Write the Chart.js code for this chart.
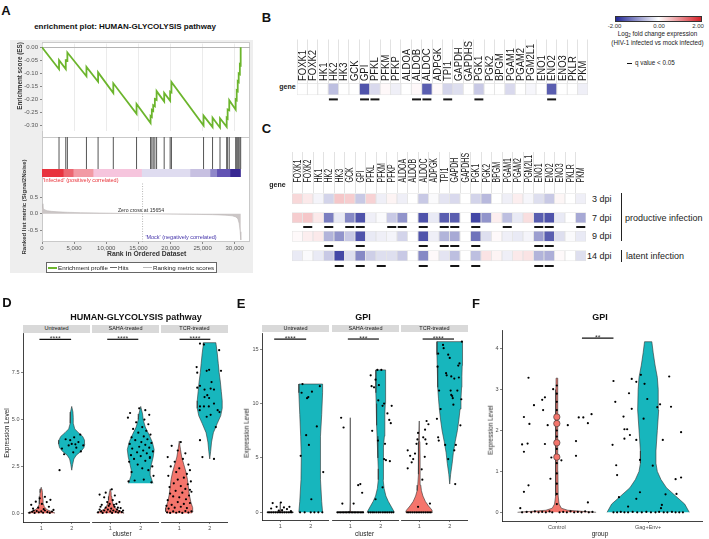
<!DOCTYPE html>
<html><head><meta charset="utf-8">
<script src="https://cdn.jsdelivr.net/npm/chart.js@4.4.1/dist/chart.umd.min.js"></script>
<style>
html,body{margin:0;padding:0;background:#fff;}
body{width:709px;height:539px;position:relative;overflow:hidden;font-family:"Liberation Sans",Arial,Helvetica,sans-serif;}
.t{position:absolute;white-space:nowrap;line-height:1;color:#111;}
.bx{position:absolute;box-sizing:border-box;}
canvas{position:absolute;}
sub{font-size:70%;vertical-align:-1px;line-height:0;}
</style></head><body>
<script>
// ================= DATA =================
// Panel A - GSEA enrichment plot
const rankTicks = [0, 5000, 10000, 15000, 20000, 25000, 30000];
const esTicks = [0, -0.05, -0.10, -0.15, -0.20, -0.25, -0.30];
const metricTicks = [-0.5, 0, 0.5];
const esRank = [0,2650,2650,3700,3700,3950,3950,6920,6920,8730,8730,11100,11100,14720,14720,16900,16900,17100,17100,17310,17310,17570,17570,17840,17840,19020,19020,19950,19950,20150,20150,25150,25150,26550,26550,27710,27710,28750,28750,28900,28900,29150,29150,30150,30150,30310,30310,30470,30470,30620,30620,30800,30800,30930,30930];
const esScore = [0,-0.084,-0.049,-0.083,-0.05,-0.052,-0.02,-0.111,-0.075,-0.132,-0.096,-0.175,-0.138,-0.255,-0.217,-0.29,-0.263,-0.267,-0.24,-0.244,-0.222,-0.226,-0.198,-0.202,-0.168,-0.208,-0.175,-0.205,-0.17,-0.173,-0.133,-0.3,-0.262,-0.306,-0.27,-0.308,-0.272,-0.305,-0.27,-0.273,-0.238,-0.241,-0.203,-0.239,-0.2,-0.203,-0.165,-0.168,-0.13,-0.133,-0.1,-0.103,-0.065,-0.068,0];
const hitRanks = [2650,3700,3950,6920,8730,11100,14720,16900,17100,17310,17570,17840,19020,19950,20150,25150,26550,27710,28750,28900,29150,30150,30310,30470,30620,30800,30930];
const metricRank = [0,150,400,800,1500,2500,4000,6000,9000,12000,15654,18000,21000,24000,26500,28500,29600,30200,30500,30700,30850,30950];
const metricValue = [0.30,0.17,0.12,0.09,0.07,0.055,0.042,0.03,0.02,0.01,0,-0.008,-0.015,-0.022,-0.03,-0.045,-0.065,-0.1,-0.16,-0.3,-0.55,-0.8];
const zeroCross = 15654;
const bandStart = [0,3300,4850,7950,15500,23030,26150,27200,29270];
const bandEnd   = [3300,4850,7950,15500,23030,26150,27200,29270,30900];
const bandColors = ['#e8333e','#ec6670','#f29aa4','#f6c5dd','#dfdcf0','#c7c0e1','#8f87c9','#6253b3','#372792'];

// Panels B, C - heatmaps (log2 fold change)
const genes = ['FOXK1','FOXK2','HK1','HK2','HK3','GCK','GPI','PFKL','PFKM','PFKP','ALDOA','ALDOB','ALDOC','ADPGK','TPI1','GAPDH','GAPDHS','PGK1','PGK2','BPGM','PGAM1','PGAM2','PGM2L1','ENO1','ENO2','ENO3','PKLR','PKM'];
const fcB  = [0,0,0,-0.6,0,0,-1.6,-0.35,0.06,-0.15,0,0.06,-1.5,0.05,-0.4,-0.3,0,-0.5,0,0,-0.35,0,-0.08,0,-1.5,0,0,-0.15];
const qB   = ['HK2','GPI','PFKL','ALDOB','ALDOC','TPI1','PGK1','ENO2'];
const fc3  = [0.35,0.2,-0.1,-0.4,0.5,0.45,-0.5,0.4,-0.15,0.1,-0.15,0,-0.5,-0.05,-0.25,-0.35,0,-0.4,-0.65,0,-0.15,0.15,-0.08,-0.3,-0.5,0.08,0,-0.15];
const fc7  = [0.45,0.5,0.2,-1.2,-0.2,-1.1,-1.6,-0.15,-0.05,-0.5,-1.0,0,-1.6,-0.2,-1.5,-1.5,0,-1.7,-1.0,0.15,-0.6,-0.2,0.3,-1.5,-1.6,-0.2,0,-0.8];
const fc9  = [0.05,0.15,0.2,-0.7,-1.0,-0.5,-1.6,-0.2,-0.15,-0.1,-0.4,0,-1.6,-0.15,-0.7,-0.8,0,-1.3,-0.3,0.05,-0.15,-0.2,-0.1,-0.9,-1.5,-0.3,-0.05,-0.2];
const fc14 = [-0.2,-0.05,-0.2,-0.5,-1.7,-0.3,-1.1,-0.45,-0.3,-0.3,-0.5,0,-1.1,0.05,-0.25,-0.6,0,-0.6,0.25,0.1,-0.15,0.2,0.25,-0.7,-0.75,0.05,0,-0.3];
const q7  = ['FOXK2','HK2','GCK','GPI','PFKP','ALDOA','ALDOC','TPI1','GAPDH','PGK1','PGAM1','ENO1','ENO2','PKM'];
const q9  = ['HK2','GPI','ALDOC','TPI1','GAPDH','PGK1','ENO1','ENO2'];
const q14 = ['HK3','GPI','PFKM','ALDOC','GAPDH','PGK1','ENO1','ENO2'];
const rowLabelsC = ['3 dpi','7 dpi','9 dpi','14 dpi'];
const colorbarTicks = ['-2.00','0.00','2.00'];

// Panels D, E, F - violins
const facetNames = ['Untreated','SAHA-treated','TCR-treated'];
const clusters = ['1','2'];
const groupsF = ['Control','Gag+Env+'];
const dTicks = [0, 2.5, 5, 7.5];
const eTicks = [0, 5, 10, 15];
const fTicks = [0, 1, 2, 3, 4];
// violin outlines: levels (expression) and half-widths
const vDU1y=[0,0.04,0.1,0.2,0.35,0.5,0.7,0.9,1.1,1.3,1.39], vDU1w=[0.42,0.43,0.32,0.18,0.1,0.07,0.06,0.05,0.04,0.02,0];
const vDU2y=[2.3,2.6,2.9,3.1,3.3,3.5,3.7,3.9,4.1,4.3,4.5,4.8,5.1,5.4,5.7], vDU2w=[0,0.03,0.07,0.15,0.3,0.4,0.43,0.42,0.36,0.22,0.1,0.05,0.05,0.04,0];
const vDS1y=[0,0.04,0.1,0.2,0.35,0.5,0.7,0.9,1.1,1.3], vDS1w=[0.42,0.44,0.35,0.22,0.13,0.09,0.06,0.05,0.03,0];
const vDS2y=[1.6,1.8,2.0,2.3,2.6,3.0,3.4,3.8,4.2,4.6,5.0,5.3,5.7], vDS2w=[0.4,0.36,0.32,0.31,0.35,0.41,0.44,0.38,0.27,0.15,0.08,0.06,0];
const vDT1y=[0,0.1,0.3,0.6,1.0,1.4,1.8,2.2,2.6,3.0,3.4,3.85], vDT1w=[0.4,0.45,0.44,0.38,0.33,0.3,0.27,0.22,0.15,0.08,0.04,0];
const vDT2y=[2.9,3.3,3.8,4.3,4.8,5.2,5.6,6.0,6.5,7.0,7.5,8.0,8.5,9.0,9.1], vDT2w=[0,0.03,0.06,0.12,0.25,0.36,0.41,0.41,0.38,0.35,0.31,0.28,0.25,0.21,0.2];
const vEU1y=[0,0.03,0.08,0.3,0.6,0.9], vEU1w=[0.45,0.05,0.015,0.008,0.005,0];
const vEU2y=[0,1,3,5,7,9,11,11.8], vEU2w=[0.39,0.36,0.32,0.31,0.33,0.36,0.39,0.39];
const vES1y=[0,0.03,0.1,1,4,8.7], vES1w=[0.45,0.04,0.01,0.006,0.005,0.004];
const vES2y=[0,0.5,1,1.5,2.2,3,4,5,6,7,8,9,10,11,12,13.1], vES2w=[0.45,0.35,0.25,0.17,0.11,0.08,0.08,0.09,0.1,0.12,0.13,0.14,0.15,0.16,0.16,0.16];
const vET1y=[0,0.2,0.6,1,1.5,2,2.5,3.5,5,6.5,8.4], vET1w=[0.45,0.42,0.3,0.2,0.12,0.07,0.05,0.03,0.025,0.02,0];
const vET2y=[2.6,3.5,4.5,5.5,6.5,7.5,8.5,9.5,10.5,11.5,12.5,13.5,14.5,15.7], vET2w=[0,0.03,0.08,0.12,0.18,0.25,0.3,0.34,0.37,0.39,0.4,0.41,0.42,0.42];
const vFCy=[0,0.02,0.05,0.1,0.2,0.4,1,2,3,3.28], vFCw=[0.43,0.3,0.12,0.05,0.025,0.015,0.012,0.012,0.01,0.008];
const vFGy=[0,0.2,0.4,0.6,0.8,1.0,1.2,1.5,2.0,2.5,3.0,3.3,3.6,3.9,4.17], vFGw=[0.45,0.4,0.3,0.2,0.14,0.1,0.085,0.085,0.1,0.115,0.11,0.1,0.075,0.055,0.04];
const fBlobs = [1.35,1.7,2.17,2.33];
// jittered cells: [offset from group centre, expression]
const ptsDU1=[[-0.38,0.03],[-0.3,0.08],[-0.22,0.02],[-0.15,0.12],[-0.08,0.05],[0,0.1],[0.06,0.03],[0.12,0.15],[0.2,0.06],[0.28,0.02],[0.35,0.09],[-0.27,0.25],[-0.1,0.3],[0.08,0.22],[0.25,0.35],[-0.33,0.45],[0.02,0.5],[0.18,0.6],[-0.18,0.62],[0.3,0.72],[-0.05,0.8],[0.12,0.88],[-0.25,0.15],[0.4,0.18]];
const ptsDU2=[[-0.4,2.3],[-0.25,3.15],[0.05,3.25],[0.3,3.3],[-0.32,3.45],[0.15,3.5],[-0.1,3.62],[0,3.7],[0.38,3.62],[0.22,3.8],[-0.2,3.95],[0.08,4.05],[0.28,4.2],[-0.05,3.9],[0.12,3.68]];
const ptsDS1=[[-0.4,0.05],[-0.35,0.2],[-0.3,0.1],[-0.25,0.02],[-0.2,0.15],[-0.15,0.3],[-0.12,0.05],[-0.08,0.2],[-0.05,0.4],[0,0.1],[0.03,0.25],[0.06,0.02],[0.1,0.15],[0.14,0.35],[0.18,0.08],[0.22,0.2],[0.26,0.04],[0.3,0.12],[0.34,0.28],[0.38,0.06],[0.42,0.15],[-0.28,0.45],[0.2,0.5],[-0.1,0.6],[0.08,0.7],[-0.2,0.85],[0.15,0.95],[-0.35,1.0],[0.05,1.28],[-0.15,1.1],[0.3,0.6],[-0.02,0.5],[0.25,0.3],[-0.32,0.35],[0.12,0.45]];
const ptsDS2=[[-0.4,1.7],[-0.2,1.75],[0.1,1.8],[0.35,1.65],[0.42,2.0],[-0.3,2.2],[0.25,2.3],[0.05,2.4],[-0.1,2.6],[0.38,2.5],[-0.38,2.75],[0.15,2.8],[-0.22,2.9],[0.3,2.95],[0,3.05],[-0.32,3.1],[0.2,3.2],[-0.12,3.25],[0.4,3.3],[0.08,3.35],[-0.28,3.45],[0.28,3.5],[-0.05,3.55],[0.15,3.65],[-0.36,3.7],[0.35,3.75],[0.02,3.8],[-0.18,3.9],[0.22,3.95],[-0.3,4.05],[0.1,4.1],[0.32,4.2],[-0.08,4.3],[0.18,4.4],[-0.25,4.5],[0.05,4.6],[0.25,4.75],[-0.15,4.85],[0.12,5.0],[-0.42,5.1],[0.28,5.25],[-0.35,5.35],[0.15,5.5],[-0.05,5.6],[0.3,3.0]];
const ptsDT1=[[-0.4,0.05],[-0.3,0.02],[-0.2,0.1],[-0.1,0.03],[0,0.08],[0.1,0.02],[0.2,0.12],[0.3,0.04],[0.4,0.1],[-0.35,0.25],[-0.15,0.3],[0.05,0.35],[0.25,0.28],[-0.25,0.45],[0.15,0.5],[0.35,0.55],[-0.05,0.6],[-0.38,0.7],[0.22,0.75],[0,0.85],[-0.2,0.9],[0.32,0.95],[-0.3,1.05],[0.1,1.1],[0.4,1.15],[-0.12,1.2],[0.2,1.3],[-0.32,1.4],[0.05,1.45],[0.28,1.55],[-0.18,1.6],[0.38,1.7],[-0.05,1.8],[0.15,1.9],[-0.36,2.0],[0.25,2.1],[-0.1,2.2],[0.35,2.3],[0,2.4],[-0.28,2.5],[0.3,2.6],[-0.15,2.75],[0.12,2.9],[-0.38,3.0],[0.2,3.2],[-0.05,3.35],[-0.25,3.6],[0.05,3.8],[0.35,1.25],[-0.42,0.4]];
const ptsDT2=[[-0.32,9.05],[-0.19,9.0],[0.31,8.7],[-0.43,7.8],[-0.1,7.6],[-0.02,7.65],[0.37,7.6],[-0.41,7.5],[0.06,7.0],[-0.32,6.8],[-0.41,6.7],[-0.17,6.6],[0.03,6.65],[0.14,6.6],[-0.08,6.3],[-0.17,6.2],[-0.02,6.15],[-0.32,5.7],[-0.19,5.7],[-0.33,5.5],[-0.03,5.7],[0.14,5.85],[0.03,5.25],[-0.1,5.15],[0.32,5.4],[0.2,4.6],[-0.32,3.9],[-0.24,3.0],[0.14,2.9],[0.26,5.5]];
const ptsEU1=[[-0.4,0],[-0.34,0],[-0.28,0],[-0.22,0],[-0.16,0],[-0.1,0],[-0.04,0],[0.02,0],[0.08,0],[0.14,0],[0.2,0],[0.26,0],[0.32,0],[0.38,0],[-0.25,0.85],[-0.3,0.35],[-0.12,0.5],[0.02,0.9],[0.06,0.2],[0.12,0.45],[0.22,0.3],[0.3,0.5],[-0.05,0.15],[0.35,0.1]];
const ptsEU2=[[-0.33,5.2],[-0.27,11.8],[-0.3,11.0],[-0.12,10.5],[-0.08,10.6],[0.04,11.1],[-0.15,7.1],[-0.06,6.2],[0.2,7.9],[0.02,1.2],[0.41,3.7],[0.3,11.6],[-0.35,0],[-0.2,0],[0,0],[0.12,0],[0.25,0],[0.38,0]];
const ptsES1=[[-0.3,8.7],[-0.22,7.8],[-0.26,0.8],[0.11,0.8],[0.26,2.5],[0.33,2.6],[0.39,1.8],[-0.42,0],[-0.37,0],[-0.32,0],[-0.27,0],[-0.22,0],[-0.17,0],[-0.12,0],[-0.07,0],[-0.02,0],[0.03,0],[0.08,0],[0.13,0],[0.18,0],[0.23,0],[0.28,0],[0.33,0],[0.38,0],[0.42,0]];
const ptsES2=[[-0.33,12.6],[-0.3,11.6],[-0.22,11.5],[-0.17,12.2],[-0.11,13.1],[-0.06,11.7],[-0.08,10.3],[0.02,13.1],[0.06,9.8],[0.11,10.0],[0.22,9.1],[0.28,8.5],[0.33,8.2],[0.36,9.8],[-0.28,7.5],[-0.17,1.2],[-0.09,6.6],[0.11,4.9],[0.17,4.8],[0.3,4.7],[0.14,6.3],[0.06,2.3],[-0.4,0],[-0.34,0],[-0.28,0],[-0.22,0],[-0.15,0],[-0.08,0],[-0.02,0],[0.05,0],[0.11,0],[0.17,0],[0.23,0],[0.29,0],[0.35,0],[0.41,0]];
const ptsET1=[[-0.38,4.05],[-0.38,5.7],[-0.25,4.6],[-0.2,4.9],[-0.14,5.4],[-0.09,6.3],[-0.06,6.7],[-0.04,7.3],[0.08,3.95],[0.13,6.9],[0.19,7.6],[0.24,8.4],[0.3,8.1],[0.2,6.7],[0.24,6.3],[0.18,5.1],[-0.04,0.5],[0.35,0.8],[0.1,3.0],[-0.3,5.2],[-0.4,0],[-0.34,0],[-0.28,0],[-0.22,0],[-0.16,0],[-0.1,0],[-0.04,0],[0.02,0],[0.08,0],[0.14,0],[0.2,0],[0.26,0],[0.32,0],[0.38,0]];
const ptsET2=[[-0.42,8.6],[-0.38,6.9],[-0.36,6.6],[-0.3,9.5],[-0.35,11.2],[-0.4,13.4],[-0.38,14.6],[-0.22,15.4],[-0.2,15.1],[-0.12,12.8],[-0.1,12.6],[-0.05,14.5],[0,14.2],[0.03,11.2],[0.05,10.8],[0.08,10.7],[0.1,10.5],[0.12,9.9],[0.15,12.3],[0.15,5.7],[0.2,6.2],[-0.05,4.9],[0.25,11.2],[0.28,13.5],[0.32,13.7],[0.3,12.4],[0.35,8.0],[0.4,15.7],[0.38,10.4],[0.18,2.6],[-0.15,6.2],[0.05,12.5]];
const ptsFC=[[-0.31,3.29],[-0.04,3.01],[-0.25,2.62],[-0.16,2.75],[-0.13,2.81],[-0.15,2.5],[-0.36,2.33],[-0.3,2.16],[-0.1,2.13],[0.12,2.13],[0.24,2.32],[0.29,2.32],[0.38,2.4],[0.34,2.18],[-0.38,1.66],[-0.32,1.68],[-0.36,1.48],[-0.13,1.67],[0.21,1.74],[0.21,1.38],[-0.06,1.34],[0.05,1.27],[-0.07,0.82],[-0.31,0.66],[-0.36,0.5],[-0.4,0.1],[0.34,0.24],
 [-0.38,0],[-0.33,0.01],[-0.28,0],[-0.24,0.02],[-0.2,0],[-0.16,0.01],[-0.12,0],[-0.08,0.02],[-0.05,0],[0.03,0],[0.07,0.01],[0.11,0],[0.15,0.02],[0.19,0],[0.23,0.01],[0.27,0],[0.31,0.02],[0.35,0],[0.39,0.01],
 [0,0.2],[0,0.45],[0,0.7],[0,0.95],[0,1.2],[0,1.55],[0,1.85],[0,2.0],[0,2.5],[0,2.7],[0,2.9],[0,3.1]];
const ptsFG=[[-0.38,3.21],[-0.36,2.7],[-0.27,2.34],[-0.21,2.91],[-0.18,3.26],[-0.13,3.19],[-0.08,3.36],[-0.04,3.14],[-0.01,2.77],[-0.05,2.29],[0.1,2.57],[0.13,2.64],[0.23,3.32],[0.25,2.58],[0.16,1.77],[0.36,1.96],[-0.18,2.53],[-0.26,2.03],[-0.23,2.03],[-0.2,1.89],[-0.26,1.8],[-0.13,1.77],[-0.39,1.65],[-0.35,1.15],[-0.34,0.91],[-0.09,1.28],[0.05,1.14],[-0.09,0.49],[-0.32,0.37],[-0.13,0.33],[-0.22,0.14],[0.19,0.44],[0.31,0.45],[0.3,0.81],[0.36,0.85],[0.15,0.18],[0.14,0.1],
 [-0.38,0],[-0.34,0],[-0.3,0.01],[-0.26,0],[-0.22,0],[-0.17,0.01],[-0.12,0],[-0.07,0],[-0.02,0.01],[0.03,0],[0.08,0],[0.12,0.01],[0.17,0],[0.21,0],[0.26,0.01],[0.3,0],[0.34,0],[0.38,0]];
// significance brackets
const sigDx0=[0.94,0.9,1.01], sigDx1=[1.98,1.92,2.02], sigDy=9.28, sigDlab=['****','****','****'];
const sigEx0=[0.8,0.92,1.11], sigEx1=[1.85,1.94,2.14], sigEy=15.94, sigElab=['****','***','****'];
const sigFx0=1.275, sigFx1=1.62, sigFy=4.26, sigFlab='**';

// ================= RENDER =================
const FONT='"Liberation Sans", Arial, Helvetica, sans-serif';
Chart.defaults.font.family=FONT;
Chart.defaults.animation=false;
Chart.defaults.color='#444';
const RED='#f4756c', TEAL='#17b6bd';

function box(x,y,w,h,css){const d=document.createElement('div');d.className='bx';Object.assign(d.style,{left:x+'px',top:y+'px',width:w+'px',height:h+'px'},css);document.body.appendChild(d);return d;}
function T(txt,x,y,o){o=o||{};const d=document.createElement('div');d.className='t';if(o.html)d.innerHTML=txt;else d.textContent=txt;const s=d.style;s.left=x+'px';s.top=y+'px';s.fontSize=(o.s||7)+'px';if(o.b)s.fontWeight='bold';if(o.c)s.color=o.c;const ax=o.a==='l'?'0':(o.a==='r'?'-100%':'-50%');s.transform='translate('+ax+',-50%)'+(o.r?' rotate('+o.r+'deg)':'');document.body.appendChild(d);return d;}
function mk(l,t,w,h,config){
  const c=document.createElement('canvas');c.width=w;c.height=h;
  Object.assign(c.style,{left:l+'px',top:t+'px',width:w+'px',height:h+'px'});
  document.body.appendChild(c);
  const o=config.options||{};
  config.options=Object.assign({responsive:false,maintainAspectRatio:false,animation:false,devicePixelRatio:1,events:[]},o);
  config.options.layout=Object.assign({autoPadding:false,padding:0},o.layout||{});
  config.options.plugins=Object.assign({legend:{display:false},tooltip:{enabled:false},title:{display:false}},o.plugins||{});
  return new Chart(c.getContext('2d'),config);
}
function setTicks(arr){return s=>{s.ticks=arr.map(v=>({value:v}));};}

// ---------- Panel A ----------
box(10,40,243,233,{background:'#eeeeee'});
box(42,42,208,200,{background:'#fff',border:'1px solid #c9c9c9'});
box(42,137,208,1,{background:'#c9c9c9'});
const XMAX=32380;
// Enrichment score
mk(10,38,240,99,{type:'scatter',data:{datasets:[{data:esRank.map((r,i)=>({x:r,y:esScore[i]})),showLine:true,borderColor:'#6cb52d',borderWidth:1.8,pointRadius:0,fill:false}]},
 options:{layout:{padding:{top:4}},scales:{
  x:{type:'linear',min:0,max:XMAX,afterBuildTicks:setTicks(rankTicks),ticks:{display:false},grid:{color:'#e6e6e6',lineWidth:0.8,drawTicks:false},border:{display:false},afterFit:s=>{s.height=0;}},
  y:{type:'linear',min:-0.3223,max:0.0142,afterBuildTicks:setTicks(esTicks),ticks:{font:{size:6},color:'#555',padding:2,callback:v=>Number(v).toFixed(2)},grid:{color:c=>(c.tick&&c.tick.value===0)?'#b5b5b5':'rgba(0,0,0,0)',tickColor:'#888',tickLength:2},border:{display:false},afterFit:s=>{s.width=32;}}}}});
// Hits
mk(42,137,208,32,{type:'scatter',data:{datasets:[{data:hitRanks.map(r=>({x:r,y:0.5})),pointStyle:'line',pointRotation:90,pointRadius:16,pointBorderColor:'#555',pointBorderWidth:1}]},
 options:{scales:{x:{type:'linear',min:0,max:XMAX,display:false},y:{min:0,max:1,display:false}}}});
// Correlation colour band
mk(42,169,208,8,{type:'bar',data:{labels:['rank'],datasets:bandStart.map((s,i)=>({data:[[s,bandEnd[i]]],backgroundColor:bandColors[i],borderWidth:0,grouped:false,categoryPercentage:1,barPercentage:1}))},
 options:{indexAxis:'y',scales:{x:{type:'linear',min:0,max:XMAX,display:false},y:{display:false}}}});
// Ranked list metric
mk(10,177,240,77,{type:'scatter',data:{datasets:[
  {data:[{x:zeroCross,y:-0.861},{x:zeroCross,y:0.944}],showLine:true,borderColor:'#a5a5a5',borderWidth:0.8,borderDash:[1,1.5],pointRadius:0},
  {data:metricRank.map((r,i)=>({x:r,y:metricValue[i]})),showLine:true,fill:'origin',backgroundColor:'#cbc6c6',borderColor:'#bdb8b8',borderWidth:0.6,pointRadius:0}]},
 options:{scales:{
  x:{type:'linear',min:0,max:XMAX,afterBuildTicks:setTicks(rankTicks),ticks:{font:{size:6},color:'#555',padding:1,maxRotation:0,autoSkip:false,callback:v=>Number(v).toLocaleString('en-US')},grid:{drawOnChartArea:false,tickLength:2,color:'#888'},border:{display:false},afterFit:s=>{s.height=12;}},
  y:{type:'linear',min:-0.861,max:0.944,afterBuildTicks:setTicks(metricTicks),ticks:{font:{size:6},color:'#555',padding:2,callback:v=>Number(v).toFixed(1)},grid:{drawOnChartArea:false,tickLength:2,color:'#888'},border:{display:false},afterFit:s=>{s.width=32;}}}}});
// legend
box(46,262,171,11,{background:'#fff',border:'1px solid #666'});
box(48,267,9,1.6,{background:'#6cb52d'});
box(110,267,7,1,{background:'#666'});
box(143,267,9,1,{background:'#bbb'});

// ---------- Panels B & C heatmaps ----------
function heatColor(v){const t=Math.max(-2,Math.min(2,v))/2;let c;if(t<0){const a=-t;c=[255+(35-255)*a,255+(40-255)*a,255+(150-255)*a];}else{c=[255+(214-255)*t,255+(32-255)*t,255+(40-255)*t];}return 'rgb('+c.map(Math.round).join(',')+')';}
const geneLabelPlugin={id:'geneLabels',afterDraw(chart,args,o){const xs=chart.scales.x,ctx=chart.ctx;ctx.save();ctx.fillStyle='#1a1a1a';ctx.font=o.size+'px '+FONT;ctx.textAlign='left';ctx.textBaseline='middle';
  chart.data.labels.forEach((lab,i)=>{ctx.save();ctx.translate(xs.getPixelForValue(i),o.y);ctx.rotate(-Math.PI/2);ctx.scale(o.sx,1);ctx.fillText(lab,0,0.5);ctx.restore();});ctx.restore();}};
function heatChart(l,t,w,h,axisH,tickLen,labelY,fsize,sx,rows,qrows,yMin,yMax){
  const ds=[];
  qrows.forEach(q=>ds.push({data:genes.map(g=>q.genes.includes(g)?[q.y0,q.y1]:null),backgroundColor:'#151515',borderWidth:0,grouped:false,categoryPercentage:1,barPercentage:0.86}));
  rows.forEach(r=>ds.push({data:genes.map(()=>[r.y0,r.y1]),backgroundColor:r.vals.map(heatColor),borderColor:'#e2e2e2',borderWidth:0.8,borderSkipped:false,grouped:false,categoryPercentage:1,barPercentage:1}));
  return mk(l,t,w,h,{type:'bar',data:{labels:genes,datasets:ds},plugins:[geneLabelPlugin],
   options:{plugins:{geneLabels:{y:labelY,size:fsize,sx:sx}},scales:{
    x:{position:'top',offset:true,grid:{offset:true,drawOnChartArea:false,drawTicks:true,tickLength:tickLen,color:'#d6d6d6',lineWidth:0.7},ticks:{display:false},border:{display:false},afterFit:s=>{s.height=axisH;}},
    y:{type:'linear',min:yMin,max:yMax,reverse:true,display:false}}}});
}
heatChart(297,36,291,66,47,43.5,45,11,0.86,[{vals:fcB,y0:83.3,y1:95}],[{genes:qB,y0:98.4,y1:100.4}],83,102);
heatChart(292,148,294,120,45,41,34.5,10,0.7,
  [{vals:fc3,y0:193.5,y1:204},{vals:fc7,y0:212.5,y1:223},{vals:fc9,y0:231,y1:241.5},{vals:fc14,y0:250.5,y1:261}],
  [{genes:q7,y0:226,y1:228},{genes:q9,y0:245,y1:247},{genes:q14,y0:265,y1:267}],193,268);
// colour scale legend
box(615,16,87,6,{background:'linear-gradient(to right, rgb(35,40,150), #ffffff, rgb(214,32,40))',border:'0.8px solid #333'});
box(627,62.5,5,1.6,{background:'#111'});
box(620.5,193,1,48,{background:'#222'});
box(620.5,250,1,12,{background:'#222'});

// ---------- Panels D, E, F violins ----------
function poly(c,ys,ws){const p=[];for(let i=0;i<ys.length;i++)p.push({x:c+ws[i],y:ys[i]});for(let i=ys.length-1;i>=0;i--)p.push({x:c-ws[i],y:ys[i]});return p;}
const sigPlugin={id:'sigText',afterDatasetsDraw(chart,args,o){if(!o||!o.text)return;const ctx=chart.ctx;ctx.save();ctx.fillStyle='#333';ctx.font=(o.size||7)+'px '+FONT;ctx.textAlign='center';ctx.textBaseline='alphabetic';
  ctx.fillText(o.text,chart.scales.x.getPixelForValue(o.x),chart.scales.y.getPixelForValue(o.y)+1.5);ctx.restore();}};
function facet(o){
  const ds=[];
  o.pts.forEach(([c,arr])=>ds.push({data:arr.map(p=>({x:c+p[0],y:p[1]})),pointRadius:1.1,pointBackgroundColor:'#000',pointBorderWidth:0,showLine:false,order:0}));
  if(o.extra)o.extra.forEach(d=>ds.push(d));
  ds.push({data:[{x:o.sig[0],y:o.sig[2]},{x:o.sig[1],y:o.sig[2]}],showLine:true,borderColor:'#111',borderWidth:1.2,pointRadius:0,order:1});
  o.violins.forEach(([c,ys,ws,col])=>ds.push({data:poly(c,ys,ws),showLine:true,fill:'shape',backgroundColor:col,borderColor:'#333',borderWidth:0.6,pointRadius:0,order:3}));
  const y=o.yW?{type:'linear',min:o.ymin,max:o.ymax,afterBuildTicks:setTicks(o.yTicks),ticks:{font:{size:5.5},color:'#4d4d4d',padding:1.5,callback:o.yFmt},grid:{drawOnChartArea:false,color:'#333',tickLength:2,lineWidth:0.6},border:{display:true,color:'#111',width:0.8},afterFit:s=>{s.width=o.yW;}}
              :{type:'linear',min:o.ymin,max:o.ymax,display:false};
  return mk(o.l,o.t,o.w,o.h,{type:'scatter',data:{datasets:ds},plugins:[sigPlugin],options:{layout:{padding:{top:o.padTop}},plugins:{sigText:{text:o.sig[3],x:(o.sig[0]+o.sig[1])/2,y:o.sig[2],size:7}},scales:{
    x:{type:'linear',min:0.4,max:2.6,afterBuildTicks:setTicks([1,2]),ticks:{font:{size:5.5},color:'#4d4d4d',padding:1.5,maxRotation:0,autoSkip:false,callback:v=>o.xLabels[Math.round(v)-1]},grid:{drawOnChartArea:false,color:'#333',tickLength:2,lineWidth:0.6},border:{display:true,color:'#111',width:0.8},afterFit:s=>{s.height=o.xH;}},
    y:y}}});
}
const fmt1=v=>Number(v).toFixed(1), fmt0=v=>String(v);
// D
const dFacetL=[0,92,161], dFacetW=[90,67,67], dYW=[23,0,0];
const dV=[[[1,vDU1y,vDU1w,RED],[2,vDU2y,vDU2w,TEAL]],[[1,vDS1y,vDS1w,RED],[2,vDS2y,vDS2w,TEAL]],[[1,vDT1y,vDT1w,RED],[2,vDT2y,vDT2w,TEAL]]];
const dP=[[[1,ptsDU1],[2,ptsDU2]],[[1,ptsDS1],[2,ptsDS2]],[[1,ptsDT1],[2,ptsDT2]]];
for(let k=0;k<3;k++){facet({l:dFacetL[k],t:326,w:dFacetW[k],h:210,padTop:7,yW:dYW[k],xH:14,ymin:-0.464,ymax:9.616,yTicks:dTicks,yFmt:fmt1,xLabels:clusters,violins:dV[k],pts:dP[k],sig:[sigDx0[k],sigDx1[k],sigDy,sigDlab[k]]});}
// E
const eFacetL=[240,332,401], eFacetW=[89,67,67], eYW=[22,0,0];
const eV=[[[1,vEU1y,vEU1w,RED],[2,vEU2y,vEU2w,TEAL]],[[1,vES1y,vES1w,RED],[2,vES2y,vES2w,TEAL]],[[1,vET1y,vET1w,RED],[2,vET2y,vET2w,TEAL]]];
const eP=[[[1,ptsEU1],[2,ptsEU2]],[[1,ptsES1],[2,ptsES2]],[[1,ptsET1],[2,ptsET2]]];
for(let k=0;k<3;k++){facet({l:eFacetL[k],t:326,w:eFacetW[k],h:208,padTop:7,yW:eYW[k],xH:14,ymin:-0.708,ymax:16.495,yTicks:eTicks,yFmt:fmt0,xLabels:clusters,violins:eV[k],pts:eP[k],sig:[sigEx0[k],sigEx1[k],sigEy,sigElab[k]]});}
// F
facet({l:480,t:323,w:223,h:212,padTop:7,yW:22,xH:14,ymin:-0.213,ymax:4.457,yTicks:fTicks,yFmt:fmt0,xLabels:groupsF,
  violins:[[1,vFCy,vFCw,RED],[2,vFGy,vFGw,TEAL]],pts:[[1,ptsFC],[2,ptsFG]],
  extra:[{data:fBlobs.map(v=>({x:1,y:v})),pointRadius:3.2,pointBackgroundColor:RED,pointBorderColor:'#333',pointBorderWidth:0.6,showLine:false,order:2}],
  sig:[sigFx0,sigFx1,sigFy,sigFlab]});

// strips
const dStripL=[23,92,161], eStripL=[262,332,401];
for(let k=0;k<3;k++){
  box(dStripL[k],324.5,67,8,{background:'#d9d9d9'});T(facetNames[k],dStripL[k]+33.5,328.6,{s:5.5,c:'#1a1a1a'});
  box(eStripL[k],325.3,67,7.2,{background:'#d9d9d9'});T(facetNames[k],eStripL[k]+33.5,329,{s:5.5,c:'#1a1a1a'});
}

// ---------- texts ----------
T('A',6,10,{s:13,b:1});
T('enrichment plot: HUMAN-GLYCOLYSIS pathway',125,27,{s:8,b:1});
T('Enrichment score (ES)',20,76,{s:6.3,b:1,c:'#333',r:-90});
T('Ranked list metric (Signal2Noise)',24,207,{s:6,b:1,c:'#333',r:-90});
T("'Infected' (positively correlated)",43,181,{s:5.5,a:'l',c:'#e8333a'});
T('Zero cross at 15654',141,210.5,{s:5.2,c:'#333'});
T("'Mock' (negatively correlated)",181,237.5,{s:5.5,c:'#4433aa'});
T('Rank in Ordered Dataset',146.7,254,{s:6.8,b:1,c:'#333'});
T('Enrichment profile',58,267.5,{s:6.2,a:'l',c:'#222'});
T('Hits',118,267.5,{s:6.2,a:'l',c:'#222'});
T('Ranking metric scores',153,267.5,{s:6.2,a:'l',c:'#222'});

T('B',266.5,16.5,{s:13,b:1});
T('C',266.5,128,{s:13,b:1});
T('gene',287.5,85.5,{s:7,b:1,c:'#222'});
T('gene',277.5,183.5,{s:7,b:1,c:'#222'});
T(colorbarTicks[0],614.5,25.5,{s:6,c:'#333'});
T(colorbarTicks[1],659,25.5,{s:6,c:'#333'});
T(colorbarTicks[2],698,25.5,{s:6,c:'#333'});
T('Log<sub>2</sub> fold change expression',657.5,33.5,{s:6.3,c:'#222',html:1});
T('(HIV-1 infected vs mock infected)',657.5,43.3,{s:6.3,c:'#222'});
T('q value &lt; 0.05',635,63.3,{s:6.3,c:'#222',a:'l',html:1});
const rowY=[199,217.7,236.3,255.8];
rowLabelsC.forEach((lab,i)=>T(lab,611.5,rowY[i],{s:9,a:'r',c:'#222'}));
T('productive infection',625,217.7,{s:9,a:'l',c:'#222'});
T('latent infection',626,255.8,{s:9,a:'l',c:'#222'});

T('D',7,302,{s:13,b:1});
T('HUMAN-GLYCOLYSIS pathway',136,317,{s:9,b:1});
T('Expression Level',7,433,{s:6.5,r:-90,c:'#222'});
T('cluster',122,534,{s:6.5,c:'#222'});
T('E',241,303,{s:13,b:1});
T('GPI',363,317,{s:9,b:1});
T('Expression Level',246.7,433,{s:6.5,r:-90,c:'#222'});
T('cluster',364.5,534,{s:6.5,c:'#222'});
T('F',476,303,{s:13,b:1});
T('GPI',600,317,{s:9,b:1});
T('Expression Level',490.7,430,{s:6.5,r:-90,c:'#222'});
T('group',600,534,{s:6.5,c:'#222'});
</script>
</body></html>
